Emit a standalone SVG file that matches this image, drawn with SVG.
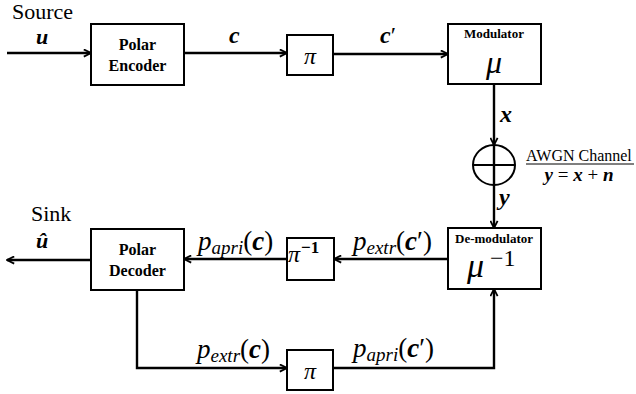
<svg xmlns="http://www.w3.org/2000/svg" width="636" height="394" viewBox="0 0 636 394">
<style>
.box{fill:#fff;stroke:#000;stroke-width:2}
.ln{fill:none;stroke:#000;stroke-width:2.4}
.t{font-family:"Liberation Serif",serif;fill:#000}
.b{font-weight:bold}
.bi{font-weight:bold;font-style:italic}
.i{font-style:italic}
.sub{font-style:italic;font-size:19px}
</style>
<defs>
<marker id="ah" viewBox="0 0 10 10" refX="9" refY="5" markerWidth="9" markerHeight="9" markerUnits="userSpaceOnUse" orient="auto">
<path d="M1,1 L9,5 L1,9" fill="none" stroke="#000" stroke-width="2"/>
</marker>
</defs>
<g id="connectors">
<line class="ln" x1="7" y1="53" x2="91" y2="53" marker-end="url(#ah)"/>
<line class="ln" x1="184" y1="53" x2="287" y2="53" marker-end="url(#ah)"/>
<line class="ln" x1="333" y1="54" x2="448" y2="54" marker-end="url(#ah)"/>
<line class="ln" x1="494" y1="84" x2="494" y2="145" marker-end="url(#ah)"/>
<line class="ln" x1="494" y1="185" x2="494" y2="228" marker-end="url(#ah)"/>
<line class="ln" x1="448" y1="259" x2="334" y2="259" marker-end="url(#ah)"/>
<line class="ln" x1="287" y1="259" x2="184" y2="259" marker-end="url(#ah)"/>
<line class="ln" x1="91" y1="260" x2="7" y2="260" marker-end="url(#ah)"/>
<polyline class="ln" points="137,290 137,368 287,368" marker-end="url(#ah)"/>
<polyline class="ln" points="333,368 494,368 494,289" marker-end="url(#ah)"/>
</g>
<g id="labels">
<text class="t" x="12" y="19" font-size="22">Source</text>
<text class="t bi" x="36" y="44" font-size="22">u</text>
<text class="t bi" x="229" y="43" font-size="24">c</text>
<text class="t" x="380" y="43" font-size="24"><tspan class="bi">c</tspan><tspan>′</tspan></text>
<text class="t bi" x="500" y="122" font-size="24">x</text>
<text class="t bi" x="499" y="205" font-size="24">y</text>
<text class="t" x="31" y="221" font-size="22">Sink</text>
<text class="t bi" x="36" y="248" font-size="22">û</text>
<text class="t" x="353" y="250" font-size="27"><tspan class="i">p</tspan><tspan class="sub" dy="4">extr</tspan><tspan dy="-4">(</tspan><tspan class="bi">c</tspan><tspan>′)</tspan></text>
<text class="t" x="198" y="250" font-size="27"><tspan class="i">p</tspan><tspan class="sub" dy="4">apri</tspan><tspan dy="-4">(</tspan><tspan class="bi">c</tspan><tspan>)</tspan></text>
<text class="t" x="197" y="358" font-size="27"><tspan class="i">p</tspan><tspan class="sub" dy="4">extr</tspan><tspan dy="-4">(</tspan><tspan class="bi">c</tspan><tspan>)</tspan></text>
<text class="t" x="353" y="357" font-size="27"><tspan class="i">p</tspan><tspan class="sub" dy="4">apri</tspan><tspan dy="-4">(</tspan><tspan class="bi">c</tspan><tspan>′)</tspan></text>
<text class="t" x="526" y="161" font-size="16">AWGN Channel</text>
<line x1="526" y1="164" x2="634" y2="164" stroke="#000" stroke-width="1"/>
<text class="t" x="579" y="181" font-size="19" text-anchor="middle"><tspan class="bi">y</tspan> = <tspan class="bi">x</tspan> + <tspan class="bi">n</tspan></text>
</g>
<g id="encoder">
<rect class="box" x="91" y="24" width="93" height="61"/>
<text class="t b" x="137.5" y="50" font-size="16" text-anchor="middle">Polar</text>
<text class="t b" x="137.5" y="71" font-size="16" text-anchor="middle">Encoder</text>
</g>
<g id="interleaver">
<rect class="box" x="287" y="35" width="46" height="40"/>
<text class="t i" x="310" y="64" font-size="24" text-anchor="middle">π</text>
</g>
<g id="modulator">
<rect class="box" x="448" y="24" width="93" height="60"/>
<text class="t b" x="494" y="38" font-size="13" text-anchor="middle">Modulator</text>
<text class="t i" x="494" y="73" font-size="32" text-anchor="middle">μ</text>
</g>
<g id="awgn">
<ellipse cx="494" cy="165" rx="21" ry="20" fill="#fff" stroke="#000" stroke-width="2"/>
<line x1="473" y1="165" x2="515" y2="165" stroke="#000" stroke-width="2"/>
<line x1="494" y1="145" x2="494" y2="185" stroke="#000" stroke-width="2.4"/>
</g>
<g id="demodulator">
<rect class="box" x="448" y="228" width="93" height="61"/>
<text class="t b" x="494" y="243" font-size="13" text-anchor="middle">De-modulator</text>
<text class="t i" x="467" y="277" font-size="34">μ</text>
<text class="t" x="490" y="266" font-size="24">−1</text>
</g>
<g id="deinterleaver">
<rect class="box" x="287" y="238" width="47" height="42"/>
<text class="t i" x="288" y="262" font-size="24">π</text>
<text class="t b" x="301" y="253" font-size="17">−1</text>
</g>
<g id="decoder">
<rect class="box" x="91" y="229" width="93" height="61"/>
<text class="t b" x="137.5" y="255" font-size="16" text-anchor="middle">Polar</text>
<text class="t b" x="137.5" y="276" font-size="16" text-anchor="middle">Decoder</text>
</g>
<g id="interleaver2">
<rect class="box" x="287" y="350" width="46" height="40"/>
<text class="t i" x="310" y="379" font-size="24" text-anchor="middle">π</text>
</g>
</svg>
